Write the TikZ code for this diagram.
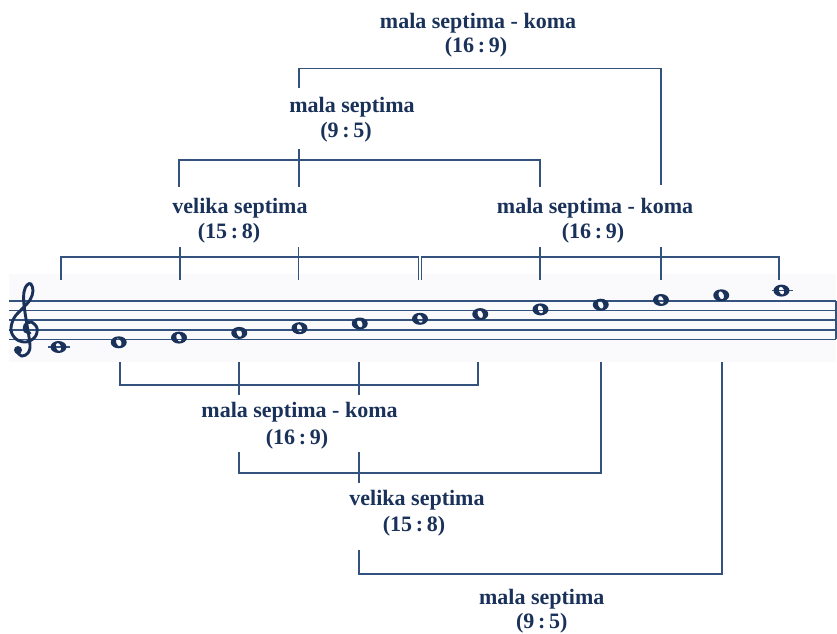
\documentclass[tikz,border=0pt]{standalone}
\usepackage{fontspec}
\setmainfont{Liberation Serif}
\definecolor{ink}{RGB}{26,50,90}
\definecolor{rulec}{RGB}{52,82,126}
\definecolor{band}{RGB}{250,250,252}
\tikzset{
  lab/.style={text=ink, font=\fontsize{22}{24}\selectfont\bfseries, anchor=base, inner sep=0pt},
  brk/.style={draw=rulec, line width=1.6pt},
  stf/.style={draw=rulec, line width=1.5pt},
}
\begin{document}
\begin{tikzpicture}[x=1pt,y=-1pt]
\useasboundingbox (0,0) rectangle (837,633);
\fill[white] (0,0) rectangle (837,633);
\fill[band] (9,274) rectangle (836,362);

% staff
\foreach \y in {301,310.6,320.2,329.8,339.4} \draw[stf] (9,\y) -- (836,\y);
\draw[stf] (836,301) -- (836,339.4);

% treble clef
\draw[ink, line width=2.9pt, line cap=round] plot[smooth, tension=0.6] coordinates {(30,333) (25,331) (25,325) (31,322) (37,328) (35,337) (26,342) (16,339) (11,330) (14,318) (22,309) (30,300) (33,291) (31,284) (27,285) (24,292) (24,305) (27,325) (30,345) (28,353) (22,356) (17,352)};
\fill[ink] (18,350) circle (4pt);

% notes
\foreach \k in {1,...,13} {
  \pgfmathsetmacro\nx{58.5+60.25*(\k-1)}
  \pgfmathsetmacro\ny{347-4.7*(\k-1)}
  \coordinate (n\k) at (\nx,\ny);
}
\draw[stf] ([xshift=-11pt]n1) -- ([xshift=11pt]n1);
\draw[stf] ([xshift=-10pt]n13) -- ([xshift=11pt]n13);
\foreach \k in {1,...,13} {
  \begin{scope}[shift={(n\k)}]
    \fill[ink, even odd rule] (0,0) ellipse (8pt and 6pt) [rotate=20] (0,0) ellipse (2.6pt and 4.2pt);
  \end{scope}
}

% ---------- top label and bracket
\node[lab] (t1) at (478,28) {mala septima - koma};
\node[lab] (t2) at (476,52) {(16\,:\,9)};
\coordinate (tL) at (299,88);  \coordinate (tLc) at (299,68.5);
\coordinate (tR) at (661,185); \coordinate (tRc) at (661,68.5);
\draw[brk] (tL) -- (tLc) -- (tRc) -- (tR);

% ---------- middle label and bracket
\node[lab] (m1) at (352,112) {mala septima};
\node[lab] (m2) at (346,137) {(9\,:\,5)};
\coordinate (sA) at (179,186.7); \coordinate (sAc) at (179,160);
\coordinate (sB) at (540,186.7); \coordinate (sBc) at (540,160);
\draw[brk] (sA) -- (sAc) -- (sBc) -- (sB);
\coordinate (sC) at (299,149); \coordinate (sD) at (299,186.7);
\draw[brk] (sC) -- (sD);

% ---------- labels above level 1
\node[lab] (v1) at (240,213) {velika septima};
\node[lab] (v2) at (229,238) {(15\,:\,8)};
\node[lab] (k1) at (595,213) {mala septima - koma};
\node[lab] (k2) at (593,238) {(16\,:\,9)};

% ---------- level 1 brackets
\coordinate (p1) at (61,280);    \coordinate (p1c) at (61,257);
\coordinate (p2) at (418.5,280); \coordinate (p2c) at (418.5,257);
\draw[brk] (p1) -- (p1c) -- (p2c) -- (p2);
\coordinate (p3) at (421.5,280); \coordinate (p3c) at (421.5,257);
\coordinate (p4) at (779,280);   \coordinate (p4c) at (779,257);
\draw[brk] (p3) -- (p3c) -- (p4c) -- (p4);
\foreach \x/\nm in {180/q1, 298.5/q2, 540/q3, 661/q4} {
  \coordinate (\nm a) at (\x,247); \coordinate (\nm b) at (\x,280);
  \draw[brk] (\nm a) -- (\nm b);
}

% ---------- bracket A (below staff)
\coordinate (a1) at (120,362); \coordinate (a1c) at (120,385);
\coordinate (a2) at (478,362); \coordinate (a2c) at (478,385);
\draw[brk] (a1) -- (a1c) -- (a2c) -- (a2);
\coordinate (a3) at (239,362); \coordinate (a3b) at (239,395);
\coordinate (a4) at (359,362); \coordinate (a4b) at (359,395);
\draw[brk] (a3) -- (a3b);
\draw[brk] (a4) -- (a4b);
\node[lab] (kb1) at (299.5,417) {mala septima - koma};
\node[lab] (kb2) at (297,444) {(16\,:\,9)};

% ---------- bracket B
\coordinate (b1) at (239,452); \coordinate (b1c) at (239,473);
\coordinate (b2) at (601,362); \coordinate (b2c) at (601,473);
\draw[brk] (b1) -- (b1c) -- (b2c) -- (b2);
\coordinate (b3) at (359,452); \coordinate (b3b) at (359,483);
\draw[brk] (b3) -- (b3b);
\node[lab] (vb1) at (417,505) {velika septima};
\node[lab] (vb2) at (414,531) {(15\,:\,8)};

% ---------- bracket C
\coordinate (c1) at (359,550); \coordinate (c1c) at (359,574);
\coordinate (c2) at (722,362); \coordinate (c2c) at (722,574);
\draw[brk] (c1) -- (c1c) -- (c2c) -- (c2);
\node[lab] (mb1) at (541.7,604) {mala septima};
\node[lab] (mb2) at (541.7,628) {(9\,:\,5)};
\end{tikzpicture}
\end{document}
